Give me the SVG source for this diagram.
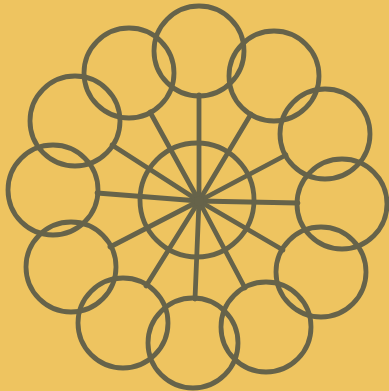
<svg xmlns="http://www.w3.org/2000/svg" width="389" height="391" viewBox="0 0 389 391">
<style>
.c{fill:none;stroke:#66634a;stroke-width:4.8}
.s{stroke:#66634a;stroke-width:4.8;stroke-linecap:round}
</style>
<rect width="389" height="391" fill="#eec460"/>
<g id="connectors">
<line class="s" x1="199" y1="201" x2="199" y2="95"/>
<line class="s" x1="199" y1="201" x2="251" y2="114"/>
<line class="s" x1="199" y1="201" x2="286" y2="155"/>
<line class="s" x1="199" y1="201" x2="298" y2="203"/>
<line class="s" x1="199" y1="201" x2="283" y2="250"/>
<line class="s" x1="199" y1="201" x2="245" y2="288"/>
<line class="s" x1="199" y1="201" x2="195" y2="299"/>
<line class="s" x1="199" y1="201" x2="146" y2="286"/>
<line class="s" x1="199" y1="201" x2="110" y2="247"/>
<line class="s" x1="199" y1="201" x2="97" y2="193"/>
<line class="s" x1="199" y1="201" x2="112" y2="145"/>
<line class="s" x1="199" y1="201" x2="150" y2="112"/>
</g>
<g id="hub"><circle class="c" cx="197" cy="200" r="57"/><circle cx="199" cy="201" r="5" fill="#66634a"/></g>
<g id="n1"><circle class="c" cx="199" cy="51" r="45"/></g>
<g id="n2"><circle class="c" cx="274" cy="76" r="45"/></g>
<g id="n3"><circle class="c" cx="325" cy="134" r="45"/></g>
<g id="n4"><circle class="c" cx="342" cy="204" r="45"/></g>
<g id="n5"><circle class="c" cx="321" cy="272" r="45"/></g>
<g id="n6"><circle class="c" cx="266" cy="327" r="45"/></g>
<g id="n7"><circle class="c" cx="193" cy="343" r="45"/></g>
<g id="n8"><circle class="c" cx="123" cy="323" r="45"/></g>
<g id="n9"><circle class="c" cx="71" cy="267" r="45"/></g>
<g id="n10"><circle class="c" cx="53" cy="190" r="45"/></g>
<g id="n11"><circle class="c" cx="75" cy="121" r="45"/></g>
<g id="n12"><circle class="c" cx="129" cy="73" r="45"/></g>
</svg>
